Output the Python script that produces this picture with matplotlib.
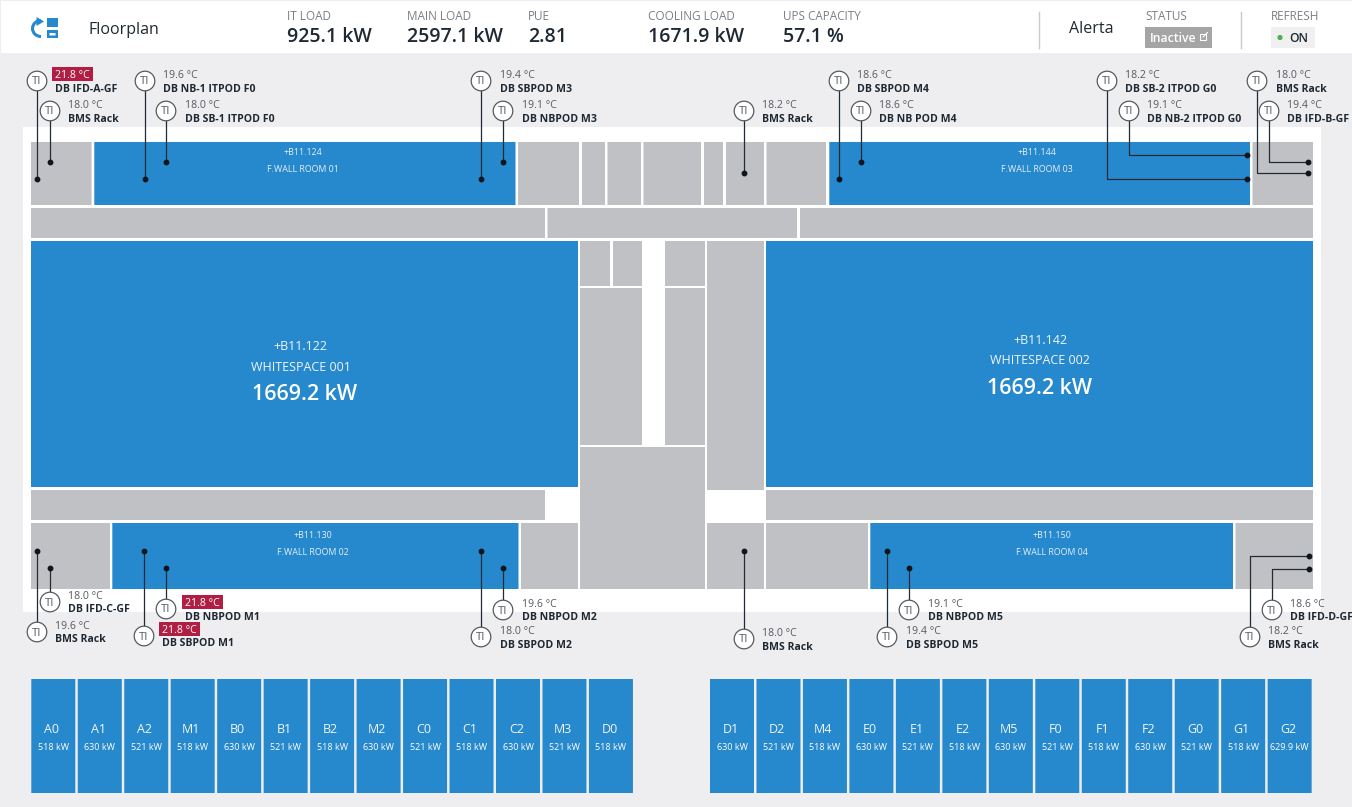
import matplotlib
matplotlib.use("Agg")
import matplotlib.pyplot as plt
from matplotlib.patches import Rectangle, Circle, Arc, Polygon

plt.rcParams["font.family"] = ["Open Sans", "DejaVu Sans"]

# header values
kpi_labels = ["IT LOAD", "MAIN LOAD", "PUE", "COOLING LOAD", "UPS CAPACITY"]
kpi_values = ["925.1 kW", "2597.1 kW", "2.81", "1671.9 kW", "57.1 %"]

# generator modules along the bottom
left_modules = ["A0", "A1", "A2", "M1", "B0", "B1", "B2", "M2", "C0", "C1", "C2", "M3", "D0"]
left_kw = ["518 kW", "630 kW", "521 kW", "518 kW", "630 kW", "521 kW", "518 kW", "630 kW",
           "521 kW", "518 kW", "630 kW", "521 kW", "518 kW"]
right_modules = ["D1", "D2", "M4", "E0", "E1", "E2", "M5", "F0", "F1", "F2", "G0", "G1", "G2"]
right_kw = ["630 kW", "521 kW", "518 kW", "630 kW", "521 kW", "518 kW", "630 kW", "521 kW",
            "518 kW", "630 kW", "521 kW", "518 kW", "629.9 kW"]

# temperature sensors
sensor_temps = [21.8, 18.0, 19.6, 18.0, 19.4, 19.1, 18.2, 18.6, 18.6, 18.2, 19.1, 18.0, 19.4,
                18.0, 19.6, 21.8, 21.8, 18.0, 19.6, 18.0, 19.4, 19.1, 18.2, 18.6]
sensor_names = ["DB IFD-A-GF", "BMS Rack", "DB NB-1 ITPOD F0", "DB SB-1 ITPOD F0", "DB SBPOD M3",
                "DB NBPOD M3", "BMS Rack", "DB SBPOD M4", "DB NB POD M4", "DB SB-2 ITPOD G0",
                "DB NB-2 ITPOD G0", "BMS Rack", "DB IFD-B-GF",
                "DB IFD-C-GF", "BMS Rack", "DB NBPOD M1", "DB SBPOD M1", "DB SBPOD M2",
                "DB NBPOD M2", "BMS Rack", "DB SBPOD M5", "DB NBPOD M5", "BMS Rack", "DB IFD-D-GF"]
alarm_limit = 21.0

# layout, in screen pixels
# circle x, circle y, text x, dot x, dot y
sensor_layout = [
    (37, 81, 55, 37, 179), (50, 111, 68, 50, 162), (145, 81, 163, 145, 179), (166, 111, 185, 166, 162),
    (481, 81, 500, 481, 179), (503, 111, 522, 503, 162), (744, 111, 762, 744, 173),
    (839, 81, 857, 839, 179), (861, 111, 879, 861, 162), (1107, 81, 1125, 1247, 179),
    (1129, 111, 1147, 1247, 155), (1257, 81, 1276, 1308, 173), (1269, 111, 1287, 1308, 162),
    (50, 602, 68, 50, 568), (37, 632, 55, 37, 551), (166, 609, 185, 166, 568), (144, 636, 162, 144, 551),
    (481, 637, 500, 481, 551), (503, 610, 522, 503, 568), (744, 639, 762, 744, 551),
    (887, 637, 906, 887, 551), (909, 610, 928, 909, 568), (1250, 637, 1268, 1309, 556),
    (1272, 610, 1290, 1309, 569),
]

gray_rooms = [
    (31, 142, 91.5, 205), (518, 142, 579, 205), (582, 142, 605, 205), (607.5, 142, 641, 205),
    (643.5, 142, 701, 205), (704, 142, 723, 205), (726, 142, 764, 205), (766.5, 142, 826, 205),
    (1252.5, 142, 1313, 205),
    (31, 208, 545, 238), (547.5, 208, 797, 238), (800, 208, 1313, 238),
    (580, 241, 610, 286), (613, 241, 642, 286), (665, 241, 705, 286), (707, 241, 764, 490),
    (580, 288, 642, 445), (665, 288, 705, 445), (580, 447, 705, 589),
    (31, 490, 545, 520), (766, 490, 1313, 520),
    (31, 523, 110, 589), (521, 523, 578, 589), (707, 523, 764, 589), (766, 523, 868, 589),
    (1235.5, 523, 1313, 589),
]
blue_rooms = [
    (94.3, 142, 515.5, 205), (829.3, 142, 1250, 205), (31, 241, 578, 487), (766, 241, 1313, 487),
    (112.3, 523, 518.5, 589), (870.3, 523, 1233, 589),
]

BLUE = "#2789cd"
GRAY = "#c0c1c5"
BG = "#eeeef0"
DARK = "#1f2933"
MUTED = "#7b7f85"
TEXT_DY = 1.5  # Open Sans sits a bit high with va=center

fig = plt.figure(figsize=(13.52, 8.07), dpi=100, facecolor=BG)
ax = fig.add_axes([0, 0, 1, 1])
ax.set_xlim(0, 1352)
ax.set_ylim(807, 0)
ax.axis("off")


def box(x0, y0, x1, y1, color, z=1):
    ax.add_patch(Rectangle((x0, y0), x1 - x0, y1 - y0, fc=color, ec="none", zorder=z, snap=False))


def label(x, y, s, size, color, **kw):
    kw.setdefault("zorder", 3)
    ax.text(x, y + TEXT_DY, s, fontsize=size, color=color, va="center", **kw)


# header and white floor
box(1, 1, 1352, 53, "white")
box(23, 127, 1321, 612, "white")
for r in gray_rooms:
    box(*r, GRAY, 2)
for r in blue_rooms:
    box(*r, BLUE, 2)

# header icon
box(47, 18, 58, 27, BLUE)
box(47, 30, 58, 38, BLUE)
box(49.5, 33, 55.5, 35.5, "white")
ax.add_patch(Arc((41, 28.5), 17, 16, theta1=90, theta2=270, color=BLUE, lw=2.2, zorder=3))
ax.add_patch(Polygon([(36.5, 17), (44, 21.5), (36.5, 26)], fc=BLUE, ec="none", zorder=3))
label(88, 28, "Floorplan", 11.5, DARK)

kpi_x = [287, 407, 528, 648, 783]
for x, lab, val in zip(kpi_x, kpi_labels, kpi_values):
    label(x, 14.5, lab, 8.5, MUTED)
    label(x, 35.5, val, 14, DARK, fontweight="semibold")

ax.plot([1039, 1039], [12, 48], color="#c9cacc", lw=1)
ax.plot([1241, 1241], [12, 48], color="#c9cacc", lw=1)
label(1069, 27.5, "Alerta", 11.5, DARK)
label(1145, 14.5, "STATUS", 8.5, MUTED)
box(1145, 27, 1212, 48, "#a5a5a5")
label(1150, 36.5, "Inactive", 8.8, "white", fontweight="semibold")
ax.add_patch(Rectangle((1200, 34), 6, 6, fc="none", ec="white", lw=0.8, zorder=3))
ax.plot([1203, 1207.5], [37, 32.5], color="white", lw=0.8, zorder=3)
label(1271, 14.5, "REFRESH", 8.5, MUTED)
box(1271, 27, 1315, 48, "#f0f0f1")
ax.add_patch(Circle((1280, 37.5), 2.6, fc="#4caf50", ec="none", zorder=3))
label(1289, 36.5, "ON", 8.8, DARK, fontweight="semibold")

# room labels
small_rooms = [(303, "+B11.124", "F.WALL ROOM 01", 151, 168), (1037, "+B11.144", "F.WALL ROOM 03", 151, 168),
               (313, "+B11.130", "F.WALL ROOM 02", 534, 551), (1051.5, "+B11.150", "F.WALL ROOM 04", 534, 551)]
for x, tag, name, y0, y1 in small_rooms:
    label(x, y0, tag, 6.4, "#e3eff8", ha="center")
    label(x, y1, name, 6.4, "#e3eff8", ha="center")

big_rooms = [(300.5, 305, "+B11.122", "WHITESPACE 001", "1669.2 kW", 345),
             (1040, 1040, "+B11.142", "WHITESPACE 002", "1669.2 kW", 338)]
for x, vx, tag, name, val, y in big_rooms:
    label(x, y + 0.5, tag, 9, "#f0f6fb", ha="center")
    label(x, y + 21, name, 9, "#f0f6fb", ha="center")
    label(vx, y + 48.5, val, 15.4, "white", ha="center", fontweight="semibold")

# modules
for start, names, kws in [(31.3, left_modules, left_kw), (710, right_modules, right_kw)]:
    for i, (name, kw) in enumerate(zip(names, kws)):
        x = start + i * 46.47
        box(x, 679, x + 44, 793, BLUE, 2)
        label(x + 20.5, 728, name, 9, "#f0f6fb", ha="center")
        label(x + 22, 745.5, kw, 6.5, "white", ha="center")

# sensors
for temp, name, (cx, cy, tx, dx, dy) in zip(sensor_temps, sensor_names, sensor_layout):
    if dx == cx:
        ax.plot([cx, dx], [cy, dy], color="#222a35", lw=0.9, zorder=4)
    else:
        ax.plot([cx, cx, dx], [cy, dy, dy], color="#222a35", lw=0.9, zorder=4)
    ax.plot(dx, dy, "o", ms=3.2, color="#10151c", zorder=5)
    ax.add_patch(Circle((cx, cy), 9.8, fc="white", ec="#555a60", lw=0.9, zorder=6))
    ax.text(cx, cy + 1, "TI", fontsize=8.2, color="#555a60", ha="center", va="center", zorder=7)
    ty = cy - 7
    temp_label = f"{temp:.1f} °C"
    if temp > alarm_limit:
        box(tx - 3, ty - 7, tx + 38, ty + 7, "#b01f43", 6)
        label(tx, ty, temp_label, 7.6, "white", zorder=7)
    else:
        label(tx, ty, temp_label, 7.6, "#555a60", zorder=7)
    label(tx, cy + 6.5, name, 7.6, DARK, fontweight="bold", zorder=7)

fig.savefig("out.png", dpi=100, facecolor=BG)
